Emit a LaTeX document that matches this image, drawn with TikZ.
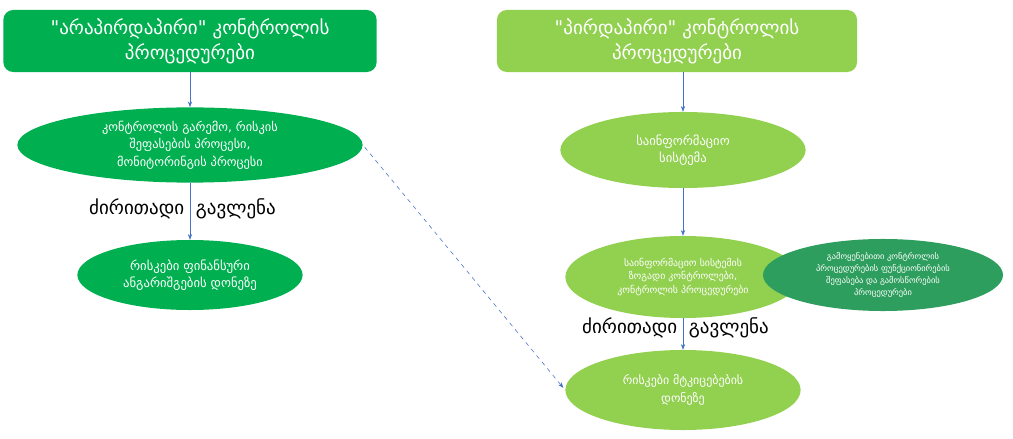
\documentclass[tikz,border=0pt]{standalone}
\usepackage{fontspec}
\newfontfamily\geo[Script=Georgian]{DejaVu Sans}
\usetikzlibrary{shapes.geometric,arrows.meta}
\definecolor{grnA}{HTML}{00B050}
\definecolor{grnB}{HTML}{92D050}
\definecolor{grnC}{HTML}{2E9E5E}
\definecolor{arrowblue}{HTML}{4472C4}
\begin{document}
\begin{tikzpicture}[x=0.025cm,y=-0.025cm,font=\geo,
  titlebox/.style={rounded corners=7pt,minimum width=#1,minimum height=1.55cm,text=white,align=center,font=\geo\fontsize{13.5}{18}\selectfont},
  oval/.style={ellipse,inner sep=0pt,text=white,align=center},
  link/.style={-{Stealth[length=4pt,width=3pt]},arrowblue,thin},
  lab/.style={text=black,font=\geo\fontsize{13.5}{16}\selectfont,inner sep=4pt}]
  \useasboundingbox (0,0) rectangle (1013,439);
  % left column
  \node[titlebox=9.33cm,fill=grnA] (t1) at (190,41) {"არაპირდაპირი" კონტროლის\\პროცედურები};
  \node[oval,fill=grnA,minimum width=8.63cm,minimum height=1.88cm,font=\geo\fontsize{8.8}{12.5}\selectfont] (e1) at (190,145) {კონტროლის გარემო, რისკის\\შეფასების პროცესი,\\მონიტორინგის პროცესი};
  \node[oval,fill=grnA,minimum width=5.63cm,minimum height=1.75cm,font=\geo\fontsize{9}{12.5}\selectfont] (e2) at (190,275) {რისკები ფინანსური\\ანგარიშგების დონეზე};
  % right column
  \node[titlebox=9cm,fill=grnB] (t2) at (677,41) {"პირდაპირი" კონტროლის\\პროცედურები};
  \node[oval,fill=grnB,minimum width=6.13cm,minimum height=1.9cm,font=\geo\fontsize{9}{12.5}\selectfont] (r1) at (683,150) {საინფორმაციო\\სისტემა};
  \node[oval,fill=grnB,minimum width=5.88cm,minimum height=2.05cm,font=\geo\fontsize{7}{9.5}\selectfont] (r2) at (683,277) {საინფორმაციო სისტემის\\ზოგადი კონტროლები,\\კონტროლის პროცედურები};
  \node[oval,fill=grnC,minimum width=6cm,minimum height=1.8cm,font=\geo\fontsize{6}{8.5}\selectfont] (r4) at (883,275) {გამოყენებითი კონტროლის\\პროცედურების ფუნქციონირების\\შეფასება და გამოსწორების\\პროცედურები};
  \node[oval,fill=grnB,minimum width=5.88cm,minimum height=2cm,font=\geo\fontsize{8.5}{12.5}\selectfont] (r3) at (683,390) {რისკები მტკიცებების\\დონეზე};
  % connectors
  \draw[link] (t1) -- (e1);
  \draw[link] (e1) -- node[lab,left,pos=0.45]{ძირითადი} node[lab,right,pos=0.45]{გავლენა} (e2);
  \draw[link] (t2.south -| r1) -- (r1.north);
  \draw[link] (r1) -- (r2);
  \draw[link] (r2) -- node[lab,left,pos=0.3]{ძირითადი} node[lab,right,pos=0.3]{გავლენა} (r3);
  \draw[link,dashed,shorten <=2pt,shorten >=2pt] (e1.east) -- (r3.west); % cross link
\end{tikzpicture}
\end{document}
